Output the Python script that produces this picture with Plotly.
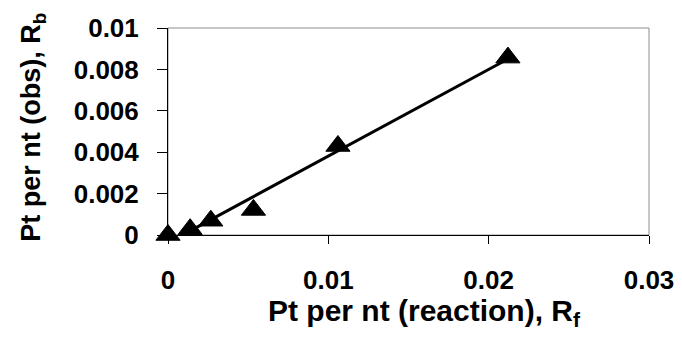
import plotly.graph_objects as go

# Data
rf_values = [0.0, 0.00138, 0.00267, 0.00533, 0.0106, 0.0212]
rb_values = [0.0, 0.00028, 0.00069, 0.00121, 0.0043, 0.00857]

# Trend line end points
fit_x = [0.00138, 0.0212]
fit_y = [0.00020, 0.0085]

x_ticks = [0, 0.01, 0.02, 0.03]
x_tick_labels = ["0", "0.01", "0.02", "0.03"]
y_ticks = [0, 0.002, 0.004, 0.006, 0.008, 0.01]
y_tick_labels = ["0", "0.002", "0.004", "0.006", "0.008", "0.01"]

FONT = "Liberation Sans, Arial, sans-serif"

fig = go.Figure()
fig.add_trace(go.Scatter(
    x=fit_x, y=fit_y, mode="lines",
    line=dict(color="black", width=3),
    showlegend=False, hoverinfo="skip",
))
fig.add_trace(go.Scatter(
    x=rf_values, y=rb_values, mode="markers",
    marker=dict(symbol="triangle-up", size=21, color="black",
                line=dict(color="black", width=1)),
    showlegend=False, cliponaxis=False,
))

# gray frame (top/right)
fig.add_shape(type="rect", xref="x domain", yref="y domain",
              x0=0, x1=1, y0=0, y1=1,
              line=dict(color="#8c8c8c", width=1), layer="below")

# page body has an 8px margin, so the figure starts at (8, 8)
fig.update_layout(
    width=666, height=328,
    margin=dict(l=160, r=25, t=20, b=101),
    paper_bgcolor="white", plot_bgcolor="white",
    font=dict(family=FONT, color="black"),
    xaxis=dict(
        range=[0, 0.03], tickvals=x_ticks, ticktext=x_tick_labels,
        showgrid=False, zeroline=False, automargin=False,
        showline=True, linecolor="black", linewidth=1,
        ticks="outside", ticklen=8, tickcolor="black", tickwidth=1,
        tickfont=dict(family=FONT, size=26, weight="bold", color="black"),
        ticklabelstandoff=14, ticklabeloverflow="allow",
    ),
    yaxis=dict(
        range=[0, 0.01], tickvals=y_ticks, ticktext=y_tick_labels,
        showgrid=False, zeroline=False, automargin=False,
        showline=True, linecolor="black", linewidth=1,
        ticks="outside", ticklen=10, tickcolor="black", tickwidth=1,
        tickfont=dict(family=FONT, size=26, weight="bold", color="black"),
        ticklabelstandoff=13, ticklabeloverflow="allow",
    ),
    annotations=[
        dict(text="Pt per nt (reaction), R<sub>f</sub>",
             xref="paper", yref="paper", x=0.534, y=-0.374,
             xanchor="center", yanchor="middle", showarrow=False,
             font=dict(family=FONT, size=30, weight="bold", color="black")),
        dict(text="Pt per nt (obs), R<sub>b</sub>",
             xref="paper", yref="paper", x=-0.281, y=0.522,
             xanchor="center", yanchor="middle", showarrow=False, textangle=-90,
             font=dict(family=FONT, size=27, weight="bold", color="black")),
    ],
)
fig.write_html("out.html")
